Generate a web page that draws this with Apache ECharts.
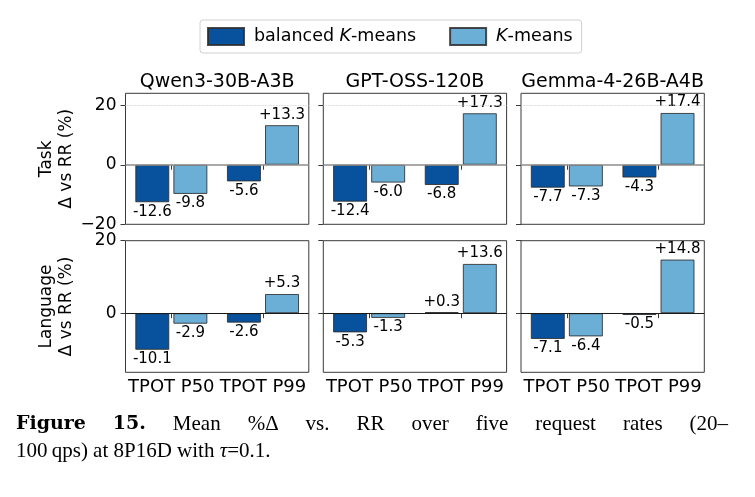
<!DOCTYPE html>
<html><head><meta charset="utf-8">
<script src="https://cdn.jsdelivr.net/npm/echarts@6/dist/echarts.min.js"></script>
<style>html,body{margin:0;padding:0;background:#fff;} #c{width:755px;height:497px;}</style>
</head><body><div id="c"></div>
<script>
// ---- data ----
const models = ['Qwen3-30B-A3B', 'GPT-OSS-120B', 'Gemma-4-26B-A4B'];
const categories = ['TPOT P50', 'TPOT P99'];
const seriesNames = ['balanced K-means', 'K-means'];
const rowLabels = ['Task\nΔ vs RR (%)', 'Language\nΔ vs RR (%)'];
const taskBalanced = [[-12.6, -5.6], [-12.4, -6.8], [-7.7, -4.3]];
const taskKMeans   = [[-9.8, 13.3], [-6.0, 17.3], [-7.3, 17.4]];
const langBalanced = [[-10.1, -2.6], [-5.3, 0.3], [-7.1, -0.5]];
const langKMeans   = [[-2.9, 5.3], [-1.3, 13.6], [-6.4, 14.8]];
const rowYMin = [-20, -16.3];
const rowYMax = [24, 20];
const rowYTicks = [[-20, 0, 20], [0, 20]];
const captionBold = 'Figure 15.';
const captionLine1 = 'Mean %Δ vs. RR over five request rates (20–';
const captionLine2 = '100\u2009qps) at 8P16D with {i|τ}=0.1.';

// ---- layout ----
const FONT = 'DejaVu Sans';
const colLeft = [125.5, 323.3, 521];
const colWidth = 183.3;
const rowTop = [93.3, 240.7];
const rowHeight = [131, 131.6];
const colors = ['#08519c', '#6baed6'];
const rowData = [[taskBalanced, taskKMeans], [langBalanced, langKMeans]];
const zeroLine = [{color: '#8c8c8c', width: 1.6}, {color: '#1a1a1a', width: 1}];

const grids = [], xAxes = [], yAxes = [], series = [];
for (let r = 0; r < 2; r++) {
  for (let c = 0; c < 3; c++) {
    const idx = r * 3 + c;
    grids.push({left: colLeft[c], top: rowTop[r], width: colWidth, height: rowHeight[r],
      show: true, borderColor: '#3a3a3a', borderWidth: 1, backgroundColor: '#fff'});
    xAxes.push({type: 'category', gridIndex: idx, data: categories,
      axisLine: {show: false},
      axisTick: {show: true, alignWithLabel: true, length: 5, lineStyle: {color: '#3a3a3a'}},
      axisLabel: {show: r === 1, interval: 0, fontSize: 18, fontFamily: FONT, color: '#000', margin: 6},
      splitLine: {show: false}});
    yAxes.push({type: 'value', gridIndex: idx, min: rowYMin[r], max: rowYMax[r],
      axisLine: {show: false},
      axisTick: {show: true, length: 5, lineStyle: {color: '#3a3a3a'}, customValues: rowYTicks[r]},
      axisLabel: {show: c === 0, fontSize: 17, fontFamily: FONT, color: '#000', margin: 9,
        customValues: rowYTicks[r],
        formatter: v => v < 0 ? '\u2212' + Math.abs(v) : String(v)},
      splitLine: {show: false}});
    for (let s = 0; s < 2; s++) {
      const vals = rowData[r][s][c];
      const ser = {
        type: 'bar', name: seriesNames[s], xAxisIndex: idx, yAxisIndex: idx,
        barWidth: 34, barGap: '12%',
        itemStyle: {color: colors[s], borderColor: 'rgba(45,45,45,0.85)', borderWidth: 1},
        label: {show: true, fontSize: 15, fontFamily: FONT, color: '#000',
          formatter: p => (p.value > 0 ? '+' : '') + p.value.toFixed(1)},
        data: vals.map(v => ({value: v, label: {position: v >= 0 ? 'top' : 'bottom', distance: v >= 0 ? 3 : 2}}))
      };
      if (s === 1) {
        const ml = [{yAxis: 0, lineStyle: {color: zeroLine[r].color, width: zeroLine[r].width, type: 'solid'}}];
        if (r === 0) ml.push({yAxis: 20, lineStyle: {color: '#c8c8c8', width: 0.8, type: 'dotted'}});
        ser.markLine = {silent: true, symbol: 'none', label: {show: false}, animation: false, data: ml};
      }
      series.push(ser);
    }
  }
}

const titles = models.map((m, c) => ({text: m, left: colLeft[c] + colWidth / 2, top: 73, textAlign: 'center',
  padding: 0, textStyle: {fontSize: 19, fontFamily: FONT, fontWeight: 'normal', color: '#000'}}));

const graphics = [];
const rowCenters = [rowTop[0] + rowHeight[0] / 2, rowTop[1] + rowHeight[1] / 2];
rowLabels.forEach((t, r) => {
  graphics.push({type: 'text', x: 57, y: rowCenters[r], rotation: Math.PI / 2,
    style: {text: t, fontSize: 17, fontFamily: FONT, fill: '#000', align: 'center', verticalAlign: 'middle', lineHeight: 20}});
});
// caption, first line justified
const SERIF = 'Liberation Serif';
const BOLD_SERIF = 'DejaVu Serif';
const ctx = document.createElement('canvas').getContext('2d');
const words = captionBold.split(' ').map(w => ({w, bold: true})).concat(captionLine1.split(' ').map(w => ({w, bold: false})));
let total = 0;
words.forEach(o => {
  o.family = o.bold ? BOLD_SERIF : SERIF;
  o.size = o.bold ? 19 : 21;
  ctx.font = (o.bold ? 'bold ' : '') + o.size + 'px "' + o.family + '"';
  o.width = ctx.measureText(o.w).width; total += o.width;
});
const capL = 16, capR = 728;
const gap = (capR - capL - total) / (words.length - 1);
let cx = capL;
words.forEach(o => {
  graphics.push({type: 'text', x: cx, y: 424, style: {text: o.w, fontSize: o.size, fontFamily: o.family,
    fontWeight: o.bold ? 'bold' : 'normal', fill: '#000', align: 'left', verticalAlign: 'middle'}});
  cx += o.width + gap;
});
graphics.push({type: 'text', x: capL, y: 451, style: {text: captionLine2, fontSize: 21, fontFamily: SERIF, fill: '#000',
  align: 'left', verticalAlign: 'middle', rich: {i: {fontStyle: 'italic', fontSize: 21, fontFamily: SERIF, fill: '#000'}}}});

const chart = echarts.init(document.getElementById('c'), null, {renderer: 'canvas'});
chart.setOption({
  animation: false,
  backgroundColor: '#fff',
  title: titles,
  legend: {data: seriesNames, left: 200, top: 20, orient: 'horizontal', icon: 'rect',
    itemWidth: 36, itemHeight: 17, itemGap: 33, padding: [7, 9, 7, 7],
    borderColor: '#d0d0d0', borderWidth: 1, borderRadius: 3, backgroundColor: '#fff',
    textStyle: {fontSize: 17.5, fontFamily: FONT, color: '#000', padding: [0, 0, 0, 5],
      rich: {i: {fontStyle: 'italic', fontSize: 17.5, fontFamily: FONT, color: '#000'}}},
    formatter: n => n.replace('K-', '{i|K}-')},
  grid: grids, xAxis: xAxes, yAxis: yAxes, series: series,
  graphic: graphics
});
</script></body></html>
